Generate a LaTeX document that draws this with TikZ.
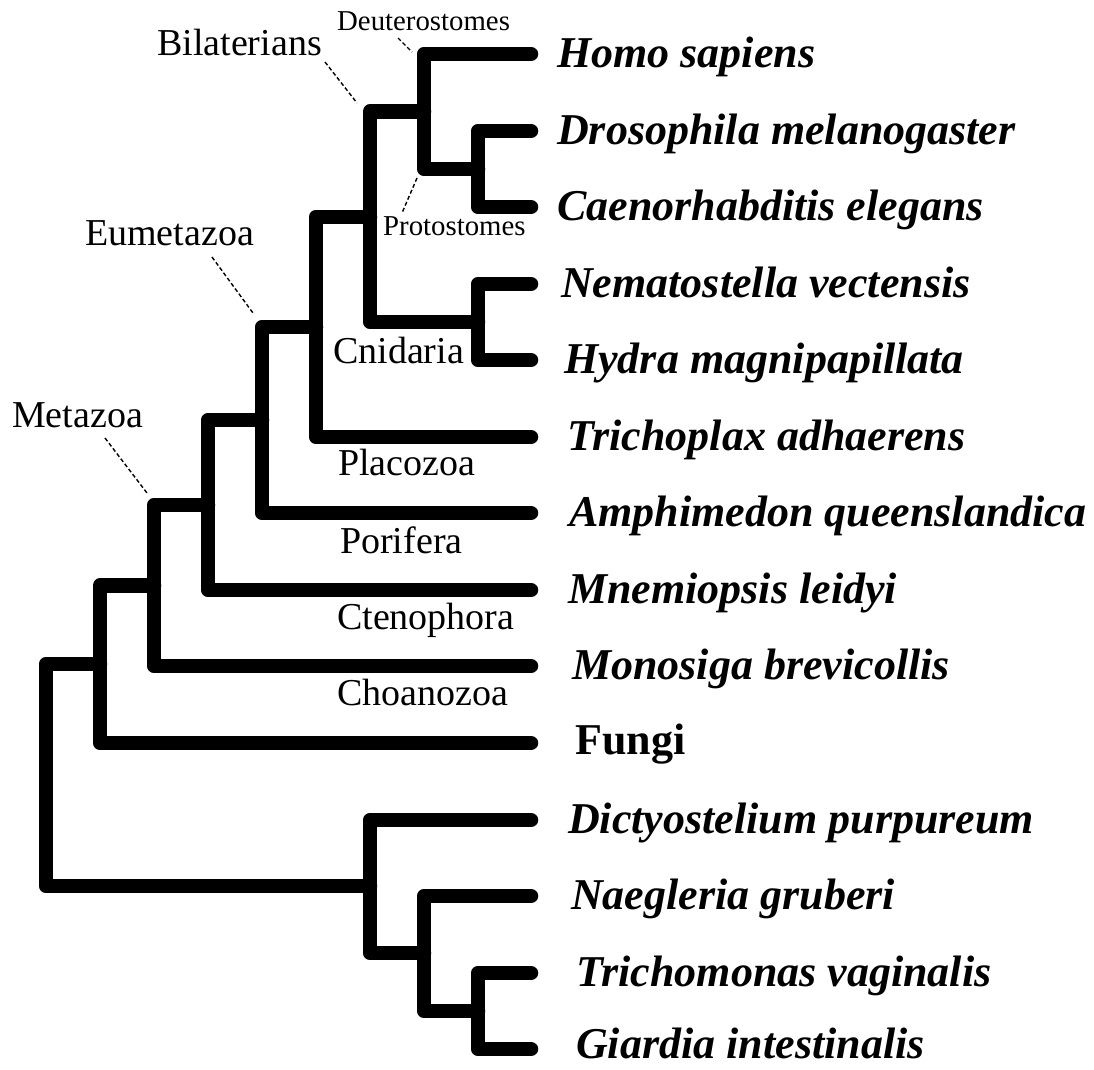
\documentclass[tikz,border=0pt]{standalone}
\usepackage{fontspec}
\setmainfont{Liberation Serif}
\begin{document}
\begin{tikzpicture}[x=1pt,y=-1pt,
  branch/.style={line width=14.5pt,line cap=round,line join=round,black},
  leaflab/.style={anchor=base west,inner sep=0pt,font=\fontsize{44}{44}\selectfont\bfseries\itshape},
  fungilab/.style={anchor=base west,inner sep=0pt,font=\fontsize{44}{44}\selectfont\bfseries},
  cladelab/.style={anchor=base west,inner sep=0pt,font=\fontsize{38}{38}\selectfont},
  smalllab/.style={anchor=base west,inner sep=0pt,font=\fontsize{28.8}{28.8}\selectfont},
  pointer/.style={line width=1.4pt,dash pattern=on 4pt off 2.5pt}]
\useasboundingbox (0,0) rectangle (1094,1069);
% leaf tips
\coordinate (L1) at (531,54);
\coordinate (L2) at (531,131);
\coordinate (L3) at (531,207);
\coordinate (L4) at (531,284);
\coordinate (L5) at (531,360);
\coordinate (L6) at (531,437);
\coordinate (L7) at (531,513);
\coordinate (L8) at (531,590);
\coordinate (L9) at (531,666);
\coordinate (L10) at (531,743);
\coordinate (L11) at (531,820);
\coordinate (L12) at (531,896);
\coordinate (L13) at (531,973);
\coordinate (L14) at (531,1049);
% internal nodes
\coordinate (nDro) at (478,169);
\coordinate (nDP) at (424,111.5);
\coordinate (nCni) at (478,322);
\coordinate (nBil) at (370,216.75);
\coordinate (nPla) at (316,327);
\coordinate (nEum) at (262,420);
\coordinate (nCte) at (208,505);
\coordinate (nMet) at (154,585.5);
\coordinate (nFun) at (100,664);
\coordinate (nRoot) at (46,775);
\coordinate (nTri) at (478,1011);
\coordinate (nNae) at (424,953);
\coordinate (nDic) at (370,886);
% branches
\draw[branch] (L2) -| (nDro) |- (L3);
\draw[branch] (L1) -| (nDP) |- (nDro);
\draw[branch] (L4) -| (nCni) |- (L5);
\draw[branch] (nDP) -| (nBil) |- (nCni);
\draw[branch] (nBil) -| (nPla) |- (L6);
\draw[branch] (nPla) -| (nEum) |- (L7);
\draw[branch] (nEum) -| (nCte) |- (L8);
\draw[branch] (nCte) -| (nMet) |- (L9);
\draw[branch] (nMet) -| (nFun) |- (L10);
\draw[branch] (L13) -| (nTri) |- (L14);
\draw[branch] (L12) -| (nNae) |- (nTri);
\draw[branch] (L11) -| (nDic) |- (nNae);
\draw[branch] (nFun) -| (nRoot) |- (nDic);
% leaf labels
\node[leaflab] (t1) at (557,67) {Homo sapiens};
\node[leaflab] (t2) at (557,144) {Drosophila melanogaster};
\node[leaflab] (t3) at (557,220) {Caenorhabditis elegans};
\node[leaflab] (t4) at (561,297) {Nematostella vectensis};
\node[leaflab] (t5) at (564,373) {Hydra magnipapillata};
\node[leaflab] (t6) at (567,450) {Trichoplax adhaerens};
\node[leaflab] (t7) at (569,526) {Amphimedon queenslandica};
\node[leaflab] (t8) at (568,603) {Mnemiopsis leidyi};
\node[leaflab] (t9) at (572,679) {Monosiga brevicollis};
\node[fungilab] (t10) at (575,754) {Fungi};
\node[leaflab] (t11) at (568,833) {Dictyostelium purpureum};
\node[leaflab] (t12) at (571,909) {Naegleria gruberi};
\node[leaflab] (t13) at (576,986) {Trichomonas vaginalis};
\node[leaflab] (t14) at (576,1058) {Giardia intestinalis};
% clade labels
\node[cladelab] (cBil) at (157,55) {Bilaterians};
\node[cladelab] (cEum) at (85,245) {Eumetazoa};
\node[cladelab] (cMet) at (12,427) {Metazoa};
\node[smalllab] (cDeu) at (337,30) {Deuterostomes};
\node[smalllab] (cPro) at (383,235) {Protostomes};
\node[cladelab] (cCni) at (333,363) {Cnidaria};
\node[cladelab] (cPla) at (338,475) {Placozoa};
\node[cladelab] (cPor) at (340,553) {Porifera};
\node[cladelab] (cCte) at (337,629) {Ctenophora};
\node[cladelab] (cCho) at (337,705) {Choanozoa};
% pointers
\coordinate (pBil) at (357,103);
\coordinate (pEum) at (253,313);
\coordinate (pMet) at (147,493);
\coordinate (pDeu) at (412,52);
\coordinate (pPro) at (402,213);
\draw[pointer] (325,62) -- (pBil);
\draw[pointer] (212,257) -- (pEum);
\draw[pointer] (105,438) -- (pMet);
\draw[pointer] (398,38) -- (pDeu);
\draw[pointer] (417,178) -- (pPro);
\end{tikzpicture}
\end{document}
